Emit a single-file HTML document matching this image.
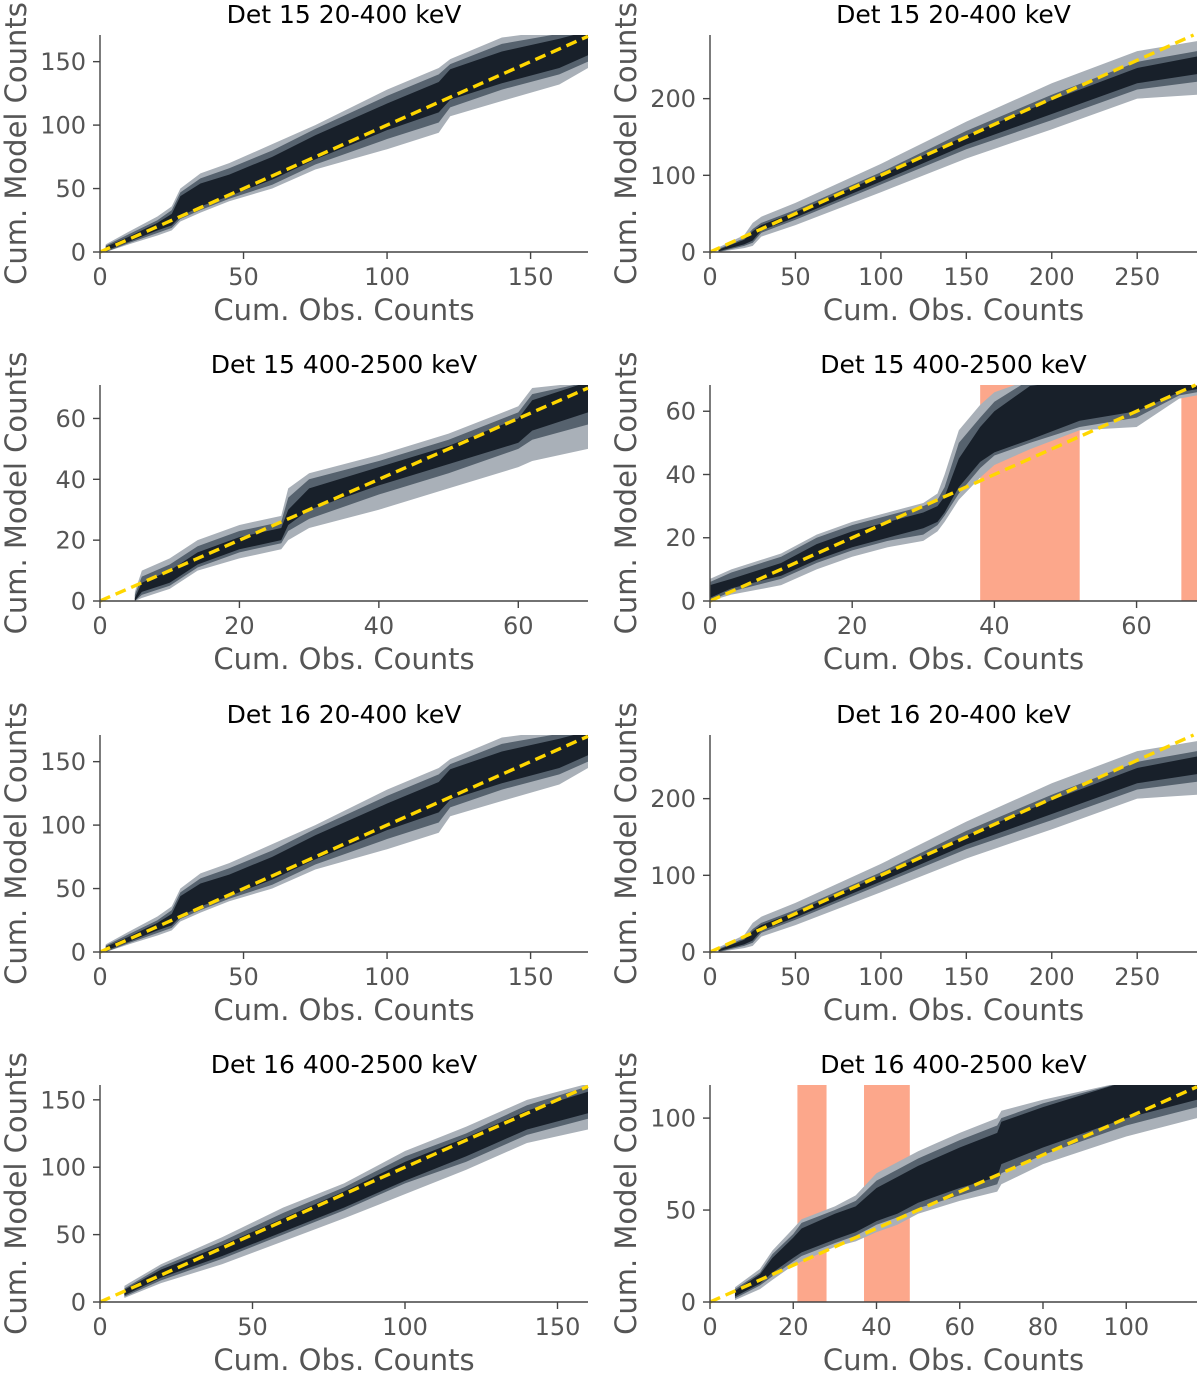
<!DOCTYPE html>
<html><head><meta charset="utf-8"><style>
body{margin:0;background:#fff;}
svg{display:block;font-family:"DejaVu Sans","Liberation Sans",sans-serif;}
</style></head><body>
<svg id="fig" width="1200" height="1374" viewBox="0 0 1200 1374" xmlns="http://www.w3.org/2000/svg"></svg>
<script>
// ---- data ----
const p1_x  =[2,10,20,25,28,35,45,60,75,100,118,122,140,160,170];
const p1_hi2=[6,16,28,36,50,62,70,85,100,128,145,152,169,175,175];
const p1_hi1=[5,14,25,33,47,58,66,80,97,123,140,148,164,172,175];
const p1_hi0=[4,12,23,30,44,54,61,75,92,117,134,144,158,168,174];
const p1_lo0=[1,8,17,21,28,36,44,57,73,96,110,120,133,145,155];
const p1_lo1=[0,7,15,19,26,33,42,53,69,89,102,114,128,140,150];
const p1_lo2=[0,6,13,17,24,31,40,50,65,81,94,107,119,132,145];

const p2_x  =[5,20,25,30,50,100,150,200,250,285];
const p2_hi2=[6,22,38,46,64,115,170,220,262,275];
const p2_hi1=[4,18,30,38,55,104,158,205,248,262];
const p2_hi0=[3,16,27,35,52,100,152,198,240,255];
const p2_lo0=[1,10,15,28,45,92,140,180,220,232];
const p2_lo1=[0,8,12,25,42,88,134,172,212,222];
const p2_lo2=[0,5,8,20,35,78,122,160,200,205];

const p3_x  =[5,6,10,12,14,20,26,27,30,40,50,60,62,70];
const p3_hi2=[3,10,14,17,20,25,28,37,42,48,55,64,70,72];
const p3_hi1=[2,8,12,15,18,23,26,34,40,46,53,62,68,72];
const p3_hi0=[1,6,10,13,16,21,24,30,37,44,51,60,66,72];
const p3_lo0=[0,3,6,9,12,17,20,25,30,38,45,52,56,62];
const p3_lo1=[0,2,5,8,11,16,19,23,27,35,42,50,53,58];
const p3_lo2=[0,1,4,7,10,14,17,20,24,30,37,44,46,50];

const p4_x  =[0,3,10,15,20,25,30,32,33,35,38,40,45,52,60,66,68.5];
const p4_hi2=[7,10,15,21,25,28,31,34,40,54,62,66,70,70,70,70,68];
const p4_hi1=[6,9,14,20,24,27,30,32,36,50,58,63,70,70,70,70,68];
const p4_hi0=[5,7,12,18,22,25,28,30,33,45,55,60,68,70,70,70,68];
const p4_lo0=[1,4,8,13,17,20,23,25,28,36,44,47,51,57,60,66,67];
const p4_lo1=[0,3,7,12,16,19,21,24,27,34,42,46,50,55,58,65,66];
const p4_lo2=[0,2,5,10,14,17,19,22,25,32,39,43,48,54,55,64,65];

const p7_x  =[8,20,40,60,80,100,120,140,160];
const p7_hi2=[12,28,48,70,88,112,130,150,162];
const p7_hi1=[10,26,45,66,85,108,125,146,160];
const p7_hi0=[9,24,42,62,82,104,122,142,156];
const p7_lo0=[5,18,34,52,70,90,108,128,140];
const p7_lo1=[4,16,32,50,68,88,104,124,136];
const p7_lo2=[3,14,28,45,62,80,98,118,128];

const p8_x  =[6,12,15,20,22,30,35,40,45,50,60,69,70,80,100,117];
const p8_hi2=[8,18,28,40,45,52,58,70,76,82,92,100,104,110,120,120];
const p8_hi1=[7,16,26,37,43,50,55,66,72,78,88,96,100,108,120,120];
const p8_hi0=[6,15,24,35,40,48,52,62,68,74,84,92,98,106,120,120];
const p8_lo0=[3,10,16,24,27,34,38,44,48,54,62,68,75,84,100,110];
const p8_lo1=[2,9,14,22,25,32,36,42,46,51,58,64,70,80,96,106];
const p8_lo2=[1,7,12,20,22,30,33,38,42,48,55,60,64,75,90,100];

const p4_spans=[[38,52],[66.3,68.5]];
const p8_spans=[[21,28],[37,48]];

const ticks_170=[0,50,100,150];
const ticks_285x=[0,50,100,150,200,250];
const ticks_285y=[0,100,200];
const ticks_70=[0,20,40,60];
const ticks_160=[0,50,100,150];
const ticks_117x=[0,20,40,60,80,100];
const ticks_117y=[0,50,100];

// ---- layout config ----
const panels=[
 {t:"Det 15 20-400 keV",L:100,T:35,W:488,H:217,xm:170,ym:171,x:p1_x,b:[p1_lo2,p1_hi2,p1_lo1,p1_hi1,p1_lo0,p1_hi0],xt:ticks_170,yt:ticks_170,sp:[]},
 {t:"Det 15 20-400 keV",L:710,T:35,W:487,H:217,xm:285,ym:283,x:p2_x,b:[p2_lo2,p2_hi2,p2_lo1,p2_hi1,p2_lo0,p2_hi0],xt:ticks_285x,yt:ticks_285y,sp:[]},
 {t:"Det 15 400-2500 keV",L:100,T:385,W:488,H:216,xm:70,ym:71,x:p3_x,b:[p3_lo2,p3_hi2,p3_lo1,p3_hi1,p3_lo0,p3_hi0],xt:ticks_70,yt:ticks_70,sp:[]},
 {t:"Det 15 400-2500 keV",L:710,T:385,W:487,H:216,xm:68.5,ym:68.3,x:p4_x,b:[p4_lo2,p4_hi2,p4_lo1,p4_hi1,p4_lo0,p4_hi0],xt:ticks_70,yt:ticks_70,sp:p4_spans},
 {t:"Det 16 20-400 keV",L:100,T:735,W:488,H:217,xm:170,ym:171,x:p1_x,b:[p1_lo2,p1_hi2,p1_lo1,p1_hi1,p1_lo0,p1_hi0],xt:ticks_170,yt:ticks_170,sp:[]},
 {t:"Det 16 20-400 keV",L:710,T:735,W:487,H:217,xm:285,ym:283,x:p2_x,b:[p2_lo2,p2_hi2,p2_lo1,p2_hi1,p2_lo0,p2_hi0],xt:ticks_285x,yt:ticks_285y,sp:[]},
 {t:"Det 16 400-2500 keV",L:100,T:1085,W:488,H:217,xm:160,ym:161,x:p7_x,b:[p7_lo2,p7_hi2,p7_lo1,p7_hi1,p7_lo0,p7_hi0],xt:ticks_160,yt:ticks_160,sp:[]},
 {t:"Det 16 400-2500 keV",L:710,T:1085,W:487,H:217,xm:117,ym:118,x:p8_x,b:[p8_lo2,p8_hi2,p8_lo1,p8_hi1,p8_lo0,p8_hi0],xt:ticks_117x,yt:ticks_117y,sp:p8_spans}
];
const bandColors=["#a9b0b8","#56626e","#18202a"];
const NS="http://www.w3.org/2000/svg";
const svg=document.getElementById("fig");
function mk(tag,attrs,parent){const e=document.createElementNS(NS,tag);for(const k in attrs)e.setAttribute(k,attrs[k]);(parent||svg).appendChild(e);return e;}

panels.forEach((p,i)=>{
 const g=mk("g",{});
 
 
 const sx=v=>p.L+v/p.xm*p.W, sy=v=>p.T+p.H-v/p.ym*p.H;
 const cp=mk("clipPath",{id:"c"+i},g);
 mk("rect",{x:p.L,y:p.T,width:p.W,height:p.H},cp);
 const plot=mk("g",{"clip-path":"url(#c"+i+")"},g);
 p.sp.forEach((s,j)=>{
  const r=mk("rect",{x:sx(s[0]),y:p.T,width:sx(s[1])-sx(s[0]),height:p.H,fill:"#fca78b"},plot);
  
  
 });
 for(let k=0;k<3;k++){
  const lo=p.b[2*k],hi=p.b[2*k+1];
  let d="M"+p.x.map((x,j)=>sx(x)+","+sy(hi[j])).join(" L");
  for(let j=p.x.length-1;j>=0;j--)d+=" L"+sx(p.x[j])+","+sy(lo[j]);
  const path=mk("path",{d:d+"Z",fill:bandColors[k]},plot);
  
  
 }
 const m=Math.min(p.xm,p.ym);
 const ln=mk("line",{x1:sx(0),y1:sy(0),x2:sx(m),y2:sy(m),stroke:"#ffd700","stroke-width":3.4,"stroke-dasharray":"11,6"},g);
 
 
 mk("line",{x1:p.L,y1:p.T,x2:p.L,y2:p.T+p.H,stroke:"#444","stroke-width":1.4},g);
 mk("line",{x1:p.L,y1:p.T+p.H,x2:p.L+p.W,y2:p.T+p.H,stroke:"#444","stroke-width":1.4},g);
 p.xt.forEach(v=>{
  mk("line",{x1:sx(v),y1:p.T+p.H,x2:sx(v),y2:p.T+p.H+7,stroke:"#444","stroke-width":1.4},g);
  const t=mk("text",{x:sx(v),y:p.T+p.H+33,"text-anchor":"middle","font-size":24,fill:"#555"},g);t.textContent=v;
  
  
 });
 p.yt.forEach(v=>{
  mk("line",{x1:p.L-7,y1:sy(v),x2:p.L,y2:sy(v),stroke:"#444","stroke-width":1.4},g);
  const t=mk("text",{x:p.L-14,y:sy(v)+8.5,"text-anchor":"end","font-size":24,fill:"#555"},g);t.textContent=v;
  
  
 });
 const ti=mk("text",{x:p.L+p.W/2,y:p.T-12,"text-anchor":"middle","font-size":25,fill:"#000"},g);ti.textContent=p.t;
 
 
 const xl=mk("text",{x:p.L+p.W/2,y:p.T+p.H+68,"text-anchor":"middle","font-size":29,fill:"#555"},g);xl.textContent="Cum. Obs. Counts";
 
 
 const yx=p.L-74,yy=p.T+p.H/2;
 const yl=mk("text",{x:yx,y:yy,"text-anchor":"middle","font-size":29,fill:"#555",transform:"rotate(-90 "+yx+" "+yy+")"},g);yl.textContent="Cum. Model Counts";
 
 
});
</script>
</body></html>
